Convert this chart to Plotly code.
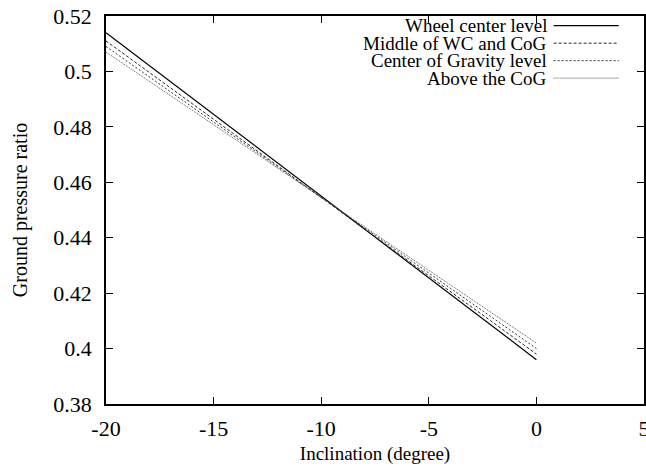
import plotly.graph_objects as go

x_vals = [-20, 0]
series_names = ["Wheel center level", "Middle of WC and CoG", "Center of Gravity level", "Above the CoG"]
wheel_center = [0.514, 0.396]
middle_wc_cog = [0.511, 0.398]
cog_level = [0.509, 0.400]
above_cog = [0.507, 0.402]
x_ticks = [-20, -15, -10, -5, 0, 5]
y_ticks = [0.38, 0.40, 0.42, 0.44, 0.46, 0.48, 0.50, 0.52]
y_tick_labels = ["0.38", "0.4", "0.42", "0.44", "0.46", "0.48", "0.5", "0.52"]

series = [wheel_center, middle_wc_cog, cog_level, above_cog]
styles = [
    dict(color="black", width=1.2, dash="solid"),
    dict(color="#222", width=1.0, dash="3px,2px"),
    dict(color="#333", width=1.0, dash="2px,2px"),
    dict(color="#555", width=1.0, dash="1px,1px"),
]

fig = go.Figure()
for name, ys, st in zip(series_names, series, styles):
    fig.add_trace(go.Scatter(x=x_vals, y=ys, mode="lines", name=name, line=st, showlegend=False))

FAM = "Liberation Serif"

# custom legend: text right-aligned, sample line to the right
leg_y = [0.975, 0.930, 0.885, 0.840]
for name, st, yy in zip(series_names, styles, leg_y):
    fig.add_annotation(xref="paper", yref="paper", x=0.823, y=yy, text=name, showarrow=False,
                       xanchor="right", yanchor="middle", font=dict(size=19, family=FAM, color="black"))
    fig.add_shape(type="line", xref="paper", yref="paper", x0=0.832, x1=0.953, y0=yy, y1=yy,
                  line=st)

axis_common = dict(showgrid=False, zeroline=False, showline=True, linecolor="black", linewidth=1.5,
                   mirror="ticks", ticks="inside", ticklen=7, tickcolor="black", tickwidth=1.2,
                   automargin=False,
                   tickfont=dict(size=22, family=FAM, color="black"))

fig.update_xaxes(range=[-20, 5], tickvals=x_ticks, ticktext=[str(v) for v in x_ticks],
                 ticklabeloverflow="allow", ticklabelstandoff=4,
                 title=dict(text="Inclination (degree)", font=dict(size=19, family=FAM, color="black"), standoff=7),
                 **axis_common)
fig.update_yaxes(range=[0.38, 0.52], tickvals=y_ticks, ticktext=y_tick_labels,
                 ticklabelstandoff=8,
                 title=dict(text="Ground pressure ratio", font=dict(size=20, family=FAM, color="black"), standoff=20),
                 **axis_common)

fig.update_layout(width=646, height=472, margin=dict(l=106, r=2, t=16, b=68),
                  paper_bgcolor="white", plot_bgcolor="white", showlegend=False)

fig.write_html("out.html")
